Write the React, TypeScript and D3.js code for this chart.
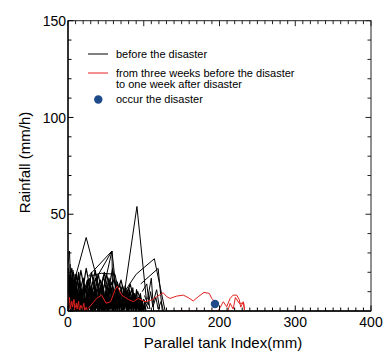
import React from "react";
import * as d3 from "d3";

type P = [number, number];

const xTicks = [0, 100, 200, 300, 400];
const yTicks = [0, 50, 100, 150];

// dense "before the disaster" traces
const blackDense: P[][] = [
  [[0,0],[1.5,7],[3,1],[4.5,6],[6,0],[7.5,8],[9,2],[10.5,6],[12,0],[13.5,7],[15,1],[16.5,5],[18,0],[19.5,8],[21,2],[22.5,6],[24,0],[25.5,7],[27,1],[28.5,6],[30,0],[31.5,8],[33,1],[34.5,5],[36,0],[37.5,7],[39,2],[40.5,6],[42,0],[43.5,8],[45,1],[46.5,6],[48,0],[49.5,7],[51,2],[52.5,5],[54,0],[55.5,7],[57,1],[58.5,6],[60,0],[61.5,8],[63,1],[64.5,6],[66,0],[67.5,7],[69,2],[70.5,5],[72,0],[73.5,6],[75,1],[76.5,7],[78,0],[79.5,5],[81,1],[82.5,6],[84,0],[85.5,5],[87,2],[88.5,6],[90,0],[91.5,5],[93,1],[94.5,4],[96,0],[97.5,4],[99,0],[100.5,3],[102,0]],
  [[1,3],[2,12],[3,2],[5,11],[7,1],[9,13],[11,3],[13,10],[15,0],[17,12],[19,2],[21,14],[23,1],[25,11],[27,3],[29,13],[31,0],[33,10],[35,2],[37,12],[39,1],[41,11],[43,3],[45,13],[47,0],[49,10],[51,2],[53,12],[55,1],[57,9],[59,3],[61,11],[63,0],[65,10],[67,2],[69,9],[71,1],[73,11],[75,3],[77,8],[79,0],[81,10],[83,2],[85,9],[87,1],[89,8],[91,3],[93,7],[95,0],[97,6],[99,1],[101,5],[103,0]],
  [[98,2],[95.5,9],[93,0],[90.5,11],[88,3],[85.5,12],[83,1],[80.5,10],[78,4],[75.5,13],[73,0],[70.5,11],[68,2],[65.5,14],[63,1],[60.5,12],[58,3],[55.5,15],[53,0],[50.5,13],[48,2],[45.5,14],[43,1],[40.5,12],[38,4],[35.5,15],[33,0],[30.5,13],[28,2],[25.5,16],[23,1],[20.5,14],[18,3],[15.5,17],[13,0],[10.5,15],[8,2],[5.5,19],[3,1],[1,16],[0,4]],
  [[5.2,0],[6.7,4],[8.2,0],[9.7,5],[11.2,1],[12.7,4],[14.2,0],[15.7,5],[17.2,0],[18.7,4],[20.2,1],[21.7,5],[23.2,0],[24.7,4],[26.2,0],[27.7,5],[29.2,1],[30.7,4],[32.2,0],[33.7,5],[35.2,0],[36.7,4],[38.2,1],[39.7,5],[41.2,0],[42.7,4],[44.2,0],[45.7,5],[47.2,1],[48.7,4],[50.2,0],[51.7,5],[53.2,0],[54.7,4],[56.2,1],[57.7,5],[59.2,0],[60.7,4],[62.2,0],[63.7,5],[65.2,1],[66.7,4],[68.2,0],[69.7,5],[71.2,0],[72.7,4],[74.2,1],[75.7,5],[77.2,0],[78.7,4],[80.2,0],[81.7,5],[83.2,1],[84.7,4],[86.2,0],[87.7,5],[89.2,0],[90.7,4],[92.2,1],[93.7,4],[95.2,0],[96.7,3],[98.2,0]],
  [[0,2],[0.5,22],[1,0],[1.5,18],[2.2,3],[2.8,24],[3.5,1],[4,20],[4.6,2],[5.2,17],[6,0],[6.6,21],[7.3,4],[8,16],[8.8,1],[9.5,19],[10.3,3],[11,15],[12,0]],
  [[0.8,1],[2.4,9],[4,0],[5.6,10],[7.2,2],[8.8,11],[10.4,1],[12,9],[13.6,0],[15.2,10],[16.8,2],[18.4,11],[20,0],[21.6,9],[23.2,1],[24.8,10],[26.4,0],[28,11],[29.6,2],[31.2,9],[32.8,0],[34.4,10],[36,1],[37.6,11],[39.2,0],[40.8,9],[42.4,2],[44,10],[45.6,0],[47.2,11],[48.8,1],[50.4,9],[52,0],[53.6,10],[55.2,2],[56.8,8],[58.4,0],[60,10],[61.6,1],[63.2,9],[64.8,0],[66.4,8],[68,2],[69.6,9],[71.2,0],[72.8,8],[74.4,1],[76,7],[77.6,0],[79.2,8],[80.8,2],[82.4,7],[84,0],[85.6,6],[87.2,1],[88.8,7],[90.4,0],[92,5],[93.6,1],[95.2,5],[96.8,0],[98.4,4],[100,0]],
  [[8,6],[14,18],[19,8],[26,16],[31,7],[36,17],[42,9],[47,18],[52,8],[58,15],[63,6],[68,14],[74,5],[80,12],[86,4],[92,10],[98,3]],
  [[2,10],[7,20],[12,9],[17,21],[22,10],[29,17],[34,6],[40,19],[45,8],[51,19],[56,9],[61,17],[66,7],[72,13],[78,4],[84,11],[90,3],[95,8],[100,0]],
  [[3,5],[10,14],[16,4],[22,12],[28,5],[34,13],[39,4],[44,12],[50,5],[55,11],[61,3],[66,12],[71,4],[77,10],[83,3],[88,9],[94,2],[100,6],[106,1]],
  [[0,15],[5,22],[9,6],[14,20],[18,7],[24,22],[30,10],[36,21],[41,8],[48,20],[53,10],[59,22],[64,8],[70,16],[76,6],[82,14],[88,5]],
  [[1,8],[4,17],[8,5],[11,19],[15,9],[20,17],[25,6],[31,20],[37,8],[43,16],[49,6],[54,17],[60,5],[65,15],[70,3],[76,12],[82,2],[87,9],[93,1]],
];

// sparse "before the disaster" spikes
const blackSparse: P[][] = [
  [[75,11],[91,54],[104,4]],
  [[6,12],[24,38],[42,11]],
  [[33,14],[58,31],[64,9]],
  [[27,18],[58,31]],
  [[46,10],[58,31],[59,8]],
  [[73,9],[90,19],[114,27],[128,0.5]],
  [[96,14],[119,22],[124.5,0]],
  [[0,24],[2,31],[4,8]],
  [[28,18],[44,19.5],[62,19],[68,8]],
  [[101,8],[106,3],[109,10],[112,2],[116,7],[119,1],[123,5],[126,0]],
  [[98,10],[104,14],[108,1]],
  [[105,6],[110,17],[113,0]],
  [[112,4],[117,11],[121,1]],
];

// "from three weeks before the disaster to one week after disaster"
const redSeries: P[][] = [
  [[26.8,1.4],[37.8,6.5],[44.4,8.2],[50.2,4.0],[56.3,4.8],[62,10.8],[65,12.9],[70.8,8.2],[79.6,6.0],[86.2,4.8],[92.8,6.5],[101.6,4.8],[110.5,5.7],[117,7.4],[125.8,9.4],[130.3,7.4],[134.7,6.5],[143.5,7.7],[152.2,8.2],[158.8,6.9],[165.4,5.2],[172,7.4],[179.5,9.6],[186.5,9.1],[189.7,6.5],[194,4.8]],
  [[0,0],[0.3,9],[1,4],[2,7],[3,1],[5,5],[6,2],[8,6],[9,0],[11,4],[12,1],[14,5],[15,0],[17,3],[19,1],[21,4],[22,0],[24,2],[26,0],[30,0.5]],
  [[196,0],[199,0.5],[205,4.8],[209.5,2.2],[214,6.5],[218,8.2],[222.7,8.2],[226,6],[228,2],[231.4,4.8],[233,0.5],[232,4],[226,4],[221,7],[218,1],[214,4],[211,0]],
  [[140,0],[200,0]],
];

const disasterPoint: P = [194, 3.6];

const legendItems = [
  { kind: "line", color: "#000", lines: ["before the disaster"] },
  { kind: "line", color: "#e8201e", lines: ["from three weeks before the disaster", "to one week after disaster"] },
  { kind: "dot", color: "#1f4a8a", lines: ["occur the disaster"] },
];

const W = 387, H = 352;
const L = 68, R = 371, T = 20.7, B = 311;
const FONT = "'Liberation Sans', Arial, Helvetica, sans-serif";

export default function App() {
  const x = d3.scaleLinear().domain([0, 400]).range([L, R]);
  const y = d3.scaleLinear().domain([0, 150]).range([B, T]);
  const line = d3.line<P>().x((d) => x(d[0])).y((d) => y(d[1]));

  const xMinor = d3.range(0, 401, 10);
  const yMinor = d3.range(0, 151, 10);
  const isXMajor = (v: number) => v % 100 === 0;
  const isYMajor = (v: number) => v % 50 === 0;

  const legendY = [54, 73, 99.5];

  return (
    <svg width={W} height={H} style={{ position: "fixed", left: 0, top: 0, background: "#fff" }} fontFamily={FONT}>
      <defs>
        <clipPath id="plot">
          <rect x={L} y={T} width={R - L} height={B - T} />
        </clipPath>
      </defs>
      <rect x={0} y={0} width={W} height={H} fill="#fff" />
      <g clipPath="url(#plot)">
        {blackDense.map((s, i) => (
          <path key={"bd" + i} d={line(s) || ""} fill="none" stroke="#000" strokeWidth={1.2} strokeLinejoin="round" />
        ))}
        {blackSparse.map((s, i) => (
          <path key={"bs" + i} d={line(s) || ""} fill="none" stroke="#000" strokeWidth={1} strokeLinejoin="round" />
        ))}
        {redSeries.map((s, i) => (
          <path key={"r" + i} d={line(s) || ""} fill="none" stroke="#e0221f" strokeWidth={1} strokeLinejoin="round" />
        ))}
        <circle cx={x(disasterPoint[0])} cy={y(disasterPoint[1])} r={4.2} fill="#1f4a8a" />
      </g>
      {/* frame */}
      <rect x={L} y={T} width={R - L} height={B - T} fill="none" stroke="#222" strokeWidth={1} />
      <line x1={L} y1={T} x2={L} y2={B} stroke="#000" strokeWidth={1.3} />
      <line x1={L} y1={B} x2={R} y2={B} stroke="#000" strokeWidth={1.3} />
      {/* ticks */}
      {xMinor.map((v) => {
        const len = isXMajor(v) ? 5.5 : 3.5;
        return (
          <g key={"xt" + v}>
            <line x1={x(v)} x2={x(v)} y1={B} y2={B - len} stroke="#000" strokeWidth={1} />
            <line x1={x(v)} x2={x(v)} y1={T} y2={T + len} stroke="#222" strokeWidth={1} />
          </g>
        );
      })}
      {yMinor.map((v) => {
        const len = isYMajor(v) ? 5.5 : 3.5;
        return (
          <g key={"yt" + v}>
            <line x1={L} x2={L + len} y1={y(v)} y2={y(v)} stroke="#000" strokeWidth={1} />
            <line x1={R} x2={R - len} y1={y(v)} y2={y(v)} stroke="#222" strokeWidth={1} />
          </g>
        );
      })}
      {xTicks.map((v) => (
        <text key={"xl" + v} x={x(v)} y={327} textAnchor="middle" fontSize={14} fill="#000">
          {v}
        </text>
      ))}
      {yTicks.map((v) => (
        <text key={"yl" + v} x={66} y={y(v)} dy="0.36em" textAnchor="end" fontSize={14} fill="#000">
          {v}
        </text>
      ))}
      <text x={223} y={348} textAnchor="middle" fontSize={15} fill="#000">
        Parallel tank Index(mm)
      </text>
      <text transform={`translate(30,162.5) rotate(-90)`} textAnchor="middle" fontSize={15} fill="#000">
        Rainfall (mm/h)
      </text>
      {/* legend */}
      {legendItems.map((it, i) => (
        <g key={"lg" + i}>
          {it.kind === "line" ? (
            <line x1={88} x2={108} y1={legendY[i]} y2={legendY[i]} stroke={it.color} strokeWidth={1} />
          ) : (
            <circle cx={98.3} cy={legendY[i]} r={4.2} fill={it.color} />
          )}
          {it.lines.map((t, j) => (
            <text key={j} x={116} y={legendY[i] + 3.8 + j * 11} fontSize={11} fill="#000">
              {t}
            </text>
          ))}
        </g>
      ))}
    </svg>
  );
}
